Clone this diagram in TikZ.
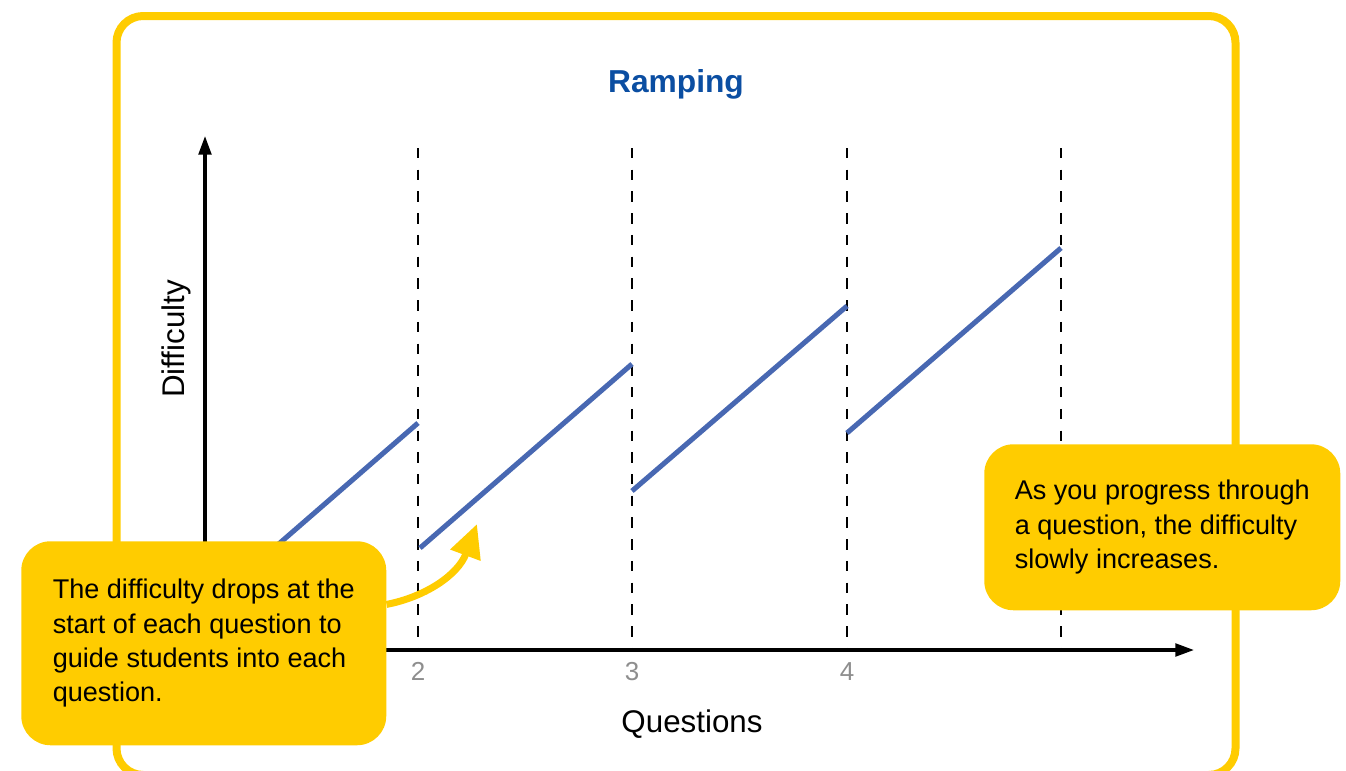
\documentclass[tikz,border=0pt]{standalone}
\usepackage{fontspec}
\setmainfont{Liberation Sans}
\usetikzlibrary{arrows.meta,positioning}

\definecolor{rampyellow}{RGB}{255,204,0}
\definecolor{rampblue}{RGB}{72,104,178}
\definecolor{titleblue}{RGB}{11,78,162}
\definecolor{tickgray}{RGB}{142,142,142}

\begin{document}
\begin{tikzpicture}[x=0.75pt,y=-0.75pt,inner sep=0pt,
  callout/.style={fill=rampyellow,rounded corners=22pt,align=left,
    font=\fontsize{20.3}{25.8}\selectfont},
  qline/.style={black,line width=2.1pt,dash pattern=on 7.8pt off 8.5pt},
  ramp/.style={rampblue,line width=3.8pt},
  axis/.style={black,line width=2.4pt,-{Triangle[length=14pt,width=9.5pt]}},
  tick/.style={tickgray,font=\fontsize{19.5}{22}\selectfont},
  axlabel/.style={font=\fontsize{23.5}{28}\selectfont}]
\useasboundingbox (0,0) rectangle (1346,771);
% frame
\draw[rampyellow,line width=6pt,rounded corners=20pt] (116.5,16) rectangle (1235.5,775);
\node (title) at (676,92) [anchor=base,text=titleblue,font=\fontsize{23.8}{28}\bfseries] {Ramping};
% axes
\coordinate (O) at (205,650);
\coordinate (Y) at (205,136);
\coordinate (X) at (1194,650);
\coordinate (Q2) at (418,650);
\coordinate (Q3) at (632,650);
\coordinate (Q4) at (847,650);
\coordinate (Q5) at (1061,650);
\draw[qline] (418,148) -- (Q2);
\draw[qline] (632,148) -- (Q3);
\draw[qline] (847,148) -- (Q4);
\draw[qline] (1061,148) -- (Q5);
\draw[axis] (O) -- (Y);
\draw[axis] (O) -- (X);
\node at (Q2) [below=9pt,tick] (n2) {2};
\node at (Q3) [below=9pt,tick] (n3) {3};
\node at (Q4) [below=9pt,tick] (n4) {4};
\node (xlabel) at (692,732) [anchor=base,axlabel] {Questions};
\node (ylabel) at (184,339) [anchor=base,rotate=90,axlabel] {Difficulty};
% difficulty ramps
\draw[ramp] (205,608) -- (418,423);
\draw[ramp] (420,548) -- (632,364);
\draw[ramp] (632,491) -- (847,306);
\draw[ramp] (847,433) -- (1061,248);
% callouts
\node (drop) at (21,541) [callout,anchor=north west,minimum width=273.75pt,minimum height=153pt]
  {The difficulty drops at the\\start of each question to\\guide students into each\\question.};
\node (rise) at (984,444) [callout,anchor=north west,minimum width=267pt,minimum height=124.5pt]
  {As you progress through\\a question, the difficulty\\slowly increases.};
\coordinate (tip) at (477,524);
\draw[rampyellow,line width=5.25pt,-{Triangle[length=25pt,width=23pt]}]
  (drop.12) .. controls (425,597) and (458,575) .. (tip);
\end{tikzpicture}
\end{document}
